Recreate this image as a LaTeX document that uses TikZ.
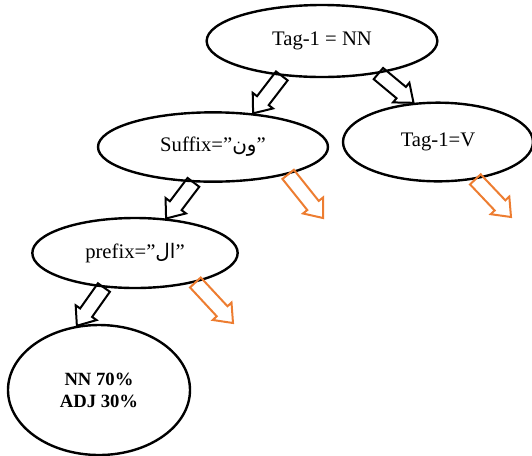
\documentclass[tikz,border=0pt]{standalone}
\usepackage{fontspec}
\setmainfont{Liberation Serif}
\newfontfamily\arabicfont[Script=Arabic]{DejaVu Sans}
\TeXXeTstate=1
\usetikzlibrary{shapes.geometric,calc}
\definecolor{orangeout}{RGB}{237,125,49}

\begin{document}
\begin{tikzpicture}[x=0.75pt,y=-0.75pt,
		test/.style={ellipse,draw,line width=1.8pt,inner sep=0pt,font=\fontsize{15.5}{18}\selectfont},
		leaf/.style={ellipse,draw,line width=1.8pt,inner sep=0pt,align=center,font=\fontsize{14}{16.5}\selectfont\bfseries},
		blk/.style={line width=1.5pt,line join=miter,
			to path={($(\tikztostart)!5.5pt!90:(\tikztotarget)$)
				-- ($(\tikztotarget)!12pt!(\tikztostart)!5.5pt!-90:(\tikztostart)$)
				-- ($(\tikztotarget)!12pt!(\tikztostart)!9.6pt!-90:(\tikztostart)$)
				-- (\tikztotarget)
				-- ($(\tikztotarget)!12pt!(\tikztostart)!9.6pt!90:(\tikztostart)$)
				-- ($(\tikztotarget)!12pt!(\tikztostart)!5.5pt!90:(\tikztostart)$)
				-- ($(\tikztostart)!5.5pt!-90:(\tikztotarget)$) -- cycle}}]
		\useasboundingbox (0,0) rectangle (532,455);

		\node[test,minimum width=173pt,minimum height=54pt] (tag) at (322,41) {Tag-1 = NN};
		\node[test,minimum width=172.5pt,minimum height=52pt] (suffix) at (213,147) {Suffix=”{\arabicfont\fontsize{15}{17}\selectfont\beginR ون\endR}”};
		\node[test,minimum width=142.5pt,minimum height=59pt] (tagv) at (438,142) {Tag-1=V};
		\node[test,minimum width=154pt,minimum height=52.5pt] (prefix) at (135,253) {prefix=”{\arabicfont\fontsize{15}{17}\selectfont\beginR ال\endR}”};
		\node[leaf,minimum width=136.5pt,minimum height=97.5pt] (res) at (99,390) {NN 70\%\\ADJ 30\%};

		\coordinate (suffixout) at (323,218);
		\coordinate (tagvout) at (511,217);
		\coordinate (prefixout) at (233,323);

		\draw[blk] (tag.221) to (suffix.40);
		\draw[blk] (tag.330) to (tagv.122);
		\draw[blk] (suffix.241) to (prefix.48);
		\draw[blk] (prefix.228) to (res.109);

		\draw[blk,color=orangeout] (suffix.340) to (suffixout);
		\draw[blk,color=orangeout] (tagv.315) to (tagvout);
		\draw[blk,color=orangeout] (prefix.334) to (prefixout);
\end{tikzpicture}
\end{document}
